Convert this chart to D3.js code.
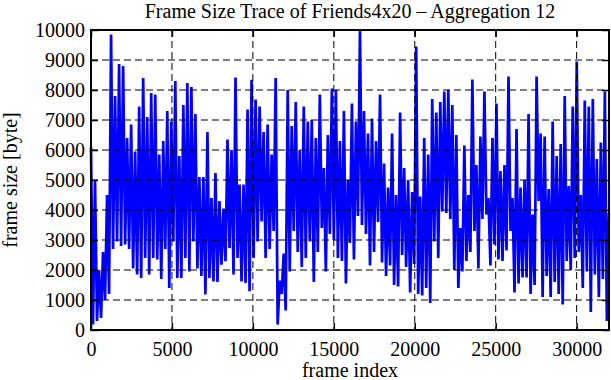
<!DOCTYPE html>
<html>
<head>
<meta charset="utf-8">
<script src="https://cdnjs.cloudflare.com/ajax/libs/d3/7.8.5/d3.min.js"></script>
<style>
body { margin: 0; background: #fff; }
svg { display: block; font-family: "Liberation Serif", "Times New Roman", serif; }
</style>
</head>
<body>
<svg width="611" height="380"></svg>
<script>
var chartTitle = "Frame Size Trace of Friends4x20 \u2013 Aggregation 12";
var xLabel = "frame index";
var yLabel = "frame size [byte]";
var xTicks = [0, 5000, 10000, 15000, 20000, 25000, 30000];
var yTicks = [0, 1000, 2000, 3000, 4000, 5000, 6000, 7000, 8000, 9000, 10000];
var xMax = 32000;
var yMax = 10000;
var frameStep = 124; // frames between plotted (aggregated) samples

// aggregated frame sizes
var frameSize = [
  6100, 180, 5000, 300, 2000, 400, 2600, 1000, 4500, 1200,
  9850, 2700, 7800, 2950, 8870, 2800, 8800, 2850, 6400, 2700,
  6850, 2050, 5950, 1850, 7450, 1730, 8400, 2400, 7100, 1850,
  7900, 2400, 7850, 2350, 5850, 1700, 6300, 2700, 7300, 1400,
  6950, 2950, 8300, 1730, 5800, 1730, 7500, 2400, 8230, 1950,
  8100, 2950, 7200, 2050, 5100, 1800, 5100, 1180, 6600, 1730,
  4400, 1620, 5230, 1600, 4300, 2180, 4050, 2290, 6350, 2730,
  6000, 1850, 8420, 2400, 4850, 1620, 4850, 1570, 7350, 1290,
  8340, 2400, 7680, 2950, 7450, 3620, 6600, 2400, 6850, 2700,
  5850, 3300, 8400, 180, 1650, 1200, 2550, 650, 8000, 1950,
  6800, 3300, 7600, 2600, 6000, 2100, 7450, 2400, 6950, 2950,
  7000, 1600, 6400, 2600, 7850, 3400, 5400, 1950, 6500, 3200,
  8050, 3000, 8000, 2400, 6300, 2300, 7300, 1550, 5000, 2900,
  7550, 2350, 6950, 3800, 10000, 3500, 7300, 3200, 6550, 2150,
  7050, 2600, 6300, 3600, 7850, 2250, 5550, 1800, 4750, 2150,
  6550, 1500, 4500, 1450, 7250, 2500, 5400, 2100, 5000, 1250,
  4600, 2200, 9450, 1200, 4450, 1150, 6400, 1400, 5850, 900,
  7700, 2950, 7250, 2400, 7600, 3950, 7950, 3900, 8000, 3700,
  7500, 2000, 6500, 1400, 3400, 1950, 6150, 2300, 4500, 2600,
  8350, 3300, 5500, 2050, 6450, 3700, 7950, 3850, 4400, 2150,
  6400, 2850, 7550, 2350, 5300, 2300, 5500, 2650, 8450, 3300,
  4400, 1250, 6700, 1550, 4750, 1750, 5000, 1750, 7200, 1200,
  3850, 1500, 8450, 4300, 6550, 1100, 6450, 1800, 4700, 1100,
  6950, 1600, 5800, 1200, 6200, 850, 7800, 2300, 4800, 2000,
  7450, 2400, 8950, 2600, 4500, 1400, 7650, 1950, 7450, 600,
  7700, 1850, 5700, 1100, 6250, 1700, 7950, 300, 3900
];

var svg_width = 611;
var svg_height = 380;
var margin = { top: 30, bottom: 50, left: 91, right: 2 };
var plot_width = svg_width - margin.left - margin.right;
var plot_height = svg_height - margin.top - margin.bottom;
var tick_len = 7;
var font_size = 20;

const xscale = d3.scaleLinear().domain([0, xMax]).range([0, plot_width]);
const yscale = d3.scaleLinear().domain([0, yMax]).range([plot_height, 0]);

var svg = d3.select("svg");
var g = svg.append("g")
    .attr("transform", `translate(${margin.left}, ${margin.top})`);

// trace
var line = d3.line()
    .x(function (d, i) { return xscale(i * frameStep); })
    .y(function (d) { return yscale(d); });

g.append("path")
    .datum(frameSize)
    .attr("fill", "none")
    .attr("stroke", "#0000ff")
    .attr("stroke-width", 2.7)
    .attr("stroke-linejoin", "bevel")
    .attr("d", line);

// dashed grid drawn over the trace, like gnuplot
g.selectAll(".hgrid")
    .data(yTicks.filter(function (t) { return t > 0 && t < yMax; }))
    .enter().append("line")
    .attr("x1", 0).attr("x2", plot_width)
    .attr("y1", function (d) { return yscale(d); })
    .attr("y2", function (d) { return yscale(d); })
    .attr("stroke", "#000").attr("stroke-width", 1)
    .attr("stroke-dasharray", "7,4");

g.selectAll(".vgrid")
    .data(xTicks.filter(function (t) { return t > 0; }))
    .enter().append("line")
    .attr("y1", 0).attr("y2", plot_height)
    .attr("x1", function (d) { return xscale(d); })
    .attr("x2", function (d) { return xscale(d); })
    .attr("stroke", "#000").attr("stroke-width", 1)
    .attr("stroke-dasharray", "7,4");

// axes with inward ticks on all four sides
function style_axis(sel) {
    sel.select(".domain").remove();
    sel.selectAll("line").attr("stroke", "#000").attr("stroke-width", 1.5);
    sel.selectAll("text")
        .attr("fill", "#000")
        .attr("font-size", font_size)
        .attr("font-family", "Liberation Serif, serif");
}

var fmt = d3.format("d");

g.append("g")
    .attr("transform", `translate(0, ${plot_height})`)
    .call(d3.axisBottom(xscale).tickValues(xTicks).tickFormat(fmt).tickSize(-tick_len).tickPadding(12))
    .call(style_axis);

g.append("g")
    .call(d3.axisTop(xscale).tickValues(xTicks).tickSize(-tick_len).tickFormat(""))
    .call(style_axis);

g.append("g")
    .call(d3.axisLeft(yscale).tickValues(yTicks).tickFormat(fmt).tickSize(-tick_len).tickPadding(6))
    .call(style_axis);

g.append("g")
    .attr("transform", `translate(${plot_width}, 0)`)
    .call(d3.axisRight(yscale).tickValues(yTicks).tickSize(-tick_len).tickFormat(""))
    .call(style_axis);

g.append("rect")
    .attr("width", plot_width)
    .attr("height", plot_height)
    .attr("fill", "none")
    .attr("stroke", "#000")
    .attr("stroke-width", 2);

// labels
svg.append("text")
    .attr("x", margin.left + plot_width / 2)
    .attr("y", 18)
    .attr("text-anchor", "middle")
    .attr("font-size", font_size)
    .text(chartTitle);

svg.append("text")
    .attr("x", margin.left + plot_width / 2)
    .attr("y", 377)
    .attr("text-anchor", "middle")
    .attr("font-size", font_size)
    .text(xLabel);

svg.append("text")
    .attr("transform", `translate(17, ${margin.top + plot_height / 2}) rotate(-90)`)
    .attr("text-anchor", "middle")
    .attr("font-size", font_size)
    .text(yLabel);
</script>
</body>
</html>
